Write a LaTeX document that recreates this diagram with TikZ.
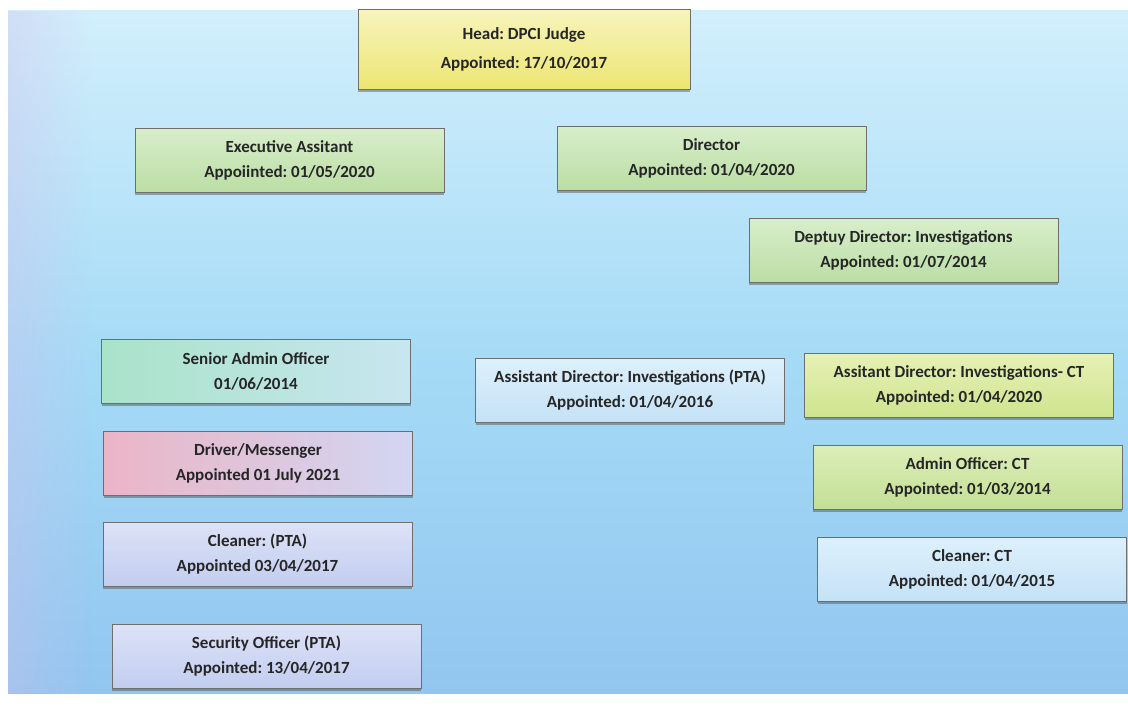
\documentclass[tikz,border=0pt]{standalone}
\usepackage{fontspec}
\setmainfont{Carlito}
\usepackage{tikz}
\usetikzlibrary{shapes,shadows,fadings}
\frenchspacing

\definecolor{bgtop}{HTML}{D2EFFC}
\definecolor{bgmid}{HTML}{A6DBF6}
\definecolor{bgbot}{HTML}{92C6F0}
\definecolor{bglav}{HTML}{D2BEEC}
\definecolor{boxline}{HTML}{6E6E6E}
\definecolor{headtop}{HTML}{F7F4BC}
\definecolor{headbot}{HTML}{EDE673}
\definecolor{greentop}{HTML}{D8EECB}
\definecolor{greenbot}{HTML}{BBDEA4}
\definecolor{tealleft}{HTML}{A9E3C9}
\definecolor{tealright}{HTML}{C8E6F0}
\definecolor{pinkleft}{HTML}{EBB5C6}
\definecolor{pinkright}{HTML}{D2D6F2}
\definecolor{lavtop}{HTML}{DCE2F7}
\definecolor{lavbot}{HTML}{C2CDEF}
\definecolor{skytop}{HTML}{DDF0FC}
\definecolor{skybot}{HTML}{C5E2F6}
\definecolor{limetop}{HTML}{E6F1B6}
\definecolor{limebot}{HTML}{CFE48F}
\definecolor{sagetop}{HTML}{DCEEB8}
\definecolor{sagebot}{HTML}{C3DF95}

\begin{document}
\begin{tikzpicture}[
    x=1pt, y=-1pt,
    box style/.style={rectangle, draw=boxline, line width=0.9pt, minimum width=309pt, minimum height=64pt,
        inner sep=0pt, align=center, text=black!85,
        font=\fontsize{17}{25}\selectfont\bfseries,
        drop shadow={shadow xshift=0pt, shadow yshift=-2.5pt, opacity=0.45, fill=black!70}},
    head style/.style={box style, minimum width=332pt, minimum height=80pt, top color=headtop, bottom color=headbot,
        font=\fontsize{17}{29}\selectfont\bfseries},
    green style/.style={box style, top color=greentop, bottom color=greenbot},
    teal style/.style={box style, left color=tealleft, right color=tealright},
    pink style/.style={box style, left color=pinkleft, right color=pinkright},
    lav style/.style={box style, top color=lavtop, bottom color=lavbot},
    sky style/.style={box style, top color=skytop, bottom color=skybot},
    lime style/.style={box style, top color=limetop, bottom color=limebot},
    sage style/.style={box style, top color=sagetop, bottom color=sagebot}
]
\fill[white] (0,0) rectangle (1128,705);
\useasboundingbox (0,0) rectangle (1128,705);
\shade[top color=bgtop, bottom color=bgbot, middle color=bgmid] (8,10) rectangle (1128,693);
\fill[bglav, path fading=east, opacity=0.35] (8,10) rectangle (90,693);

\node[head style] (head) at (524,49) {Head: DPCI Judge\\Appointed: 17/10/2017};

\node[green style] (execasst) at (289.5,160) {Executive Assitant\\Appoiinted: 01/05/2020};
\node[green style] (director) at (711.5,158) {Director\\Appointed: 01/04/2020};
\node[green style] (deputy) at (903.5,250.5) {Deptuy Director: Investigations\\Appointed: 01/07/2014};

\node[teal style] (senioradmin) at (256,371) {Senior Admin Officer\\01/06/2014};
\node[pink style] (driver) at (258,463.5) {Driver/Messenger\\Appointed 01 July 2021};
\node[lav style] (cleanerpta) at (257.5,554.5) {Cleaner: (PTA)\\Appointed 03/04/2017};
\node[lav style] (security) at (266.5,656.5) {Security Officer (PTA)\\Appointed: 13/04/2017};

\node[sky style] (asstpta) at (630,390) {Assistant Director: Investigations (PTA)\\Appointed: 01/04/2016};
\node[lime style] (asstct) at (959,385) {Assitant Director: Investigations- CT\\Appointed: 01/04/2020};
\node[sage style] (adminct) at (967.5,477.5) {Admin Officer: CT\\Appointed: 01/03/2014};
\node[sky style] (cleanerct) at (972,569) {Cleaner: CT\\Appointed: 01/04/2015};
\end{tikzpicture}
\end{document}
